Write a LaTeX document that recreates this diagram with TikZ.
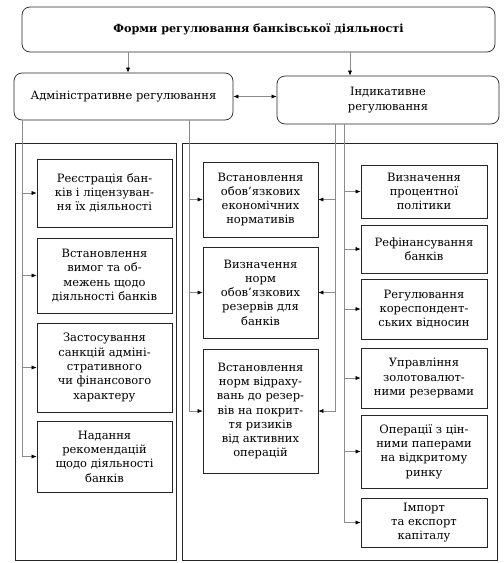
\documentclass[tikz,border=0pt]{standalone}
\usepackage{fontspec}
\setmainfont{DejaVu Serif}
\usetikzlibrary{arrows.meta}
\tikzset{
  box/.style={draw=black!85, line width=0.7pt, align=center, inner sep=1pt, font=\fontsize{11.5}{14.3}\selectfont},
  headbox/.style={box, rounded corners=8pt},
  admbox/.style={box, minimum width=135pt},
  normbox/.style={box, minimum width=115pt},
  instbox/.style={box, minimum width=126pt},
  frame/.style={draw=black!85, line width=0.7pt},
  link/.style={draw=black!45, line width=0.5pt, -{Latex[length=5pt,width=4pt,black]}},
  twoway/.style={draw=black!45, line width=0.5pt, {Latex[length=5pt,width=4pt,black]}-{Latex[length=5pt,width=4pt,black]}},
}
\begin{document}
\begin{tikzpicture}[x=1pt,y=-1pt]
\useasboundingbox (0,0) rectangle (504,563);
\fill[white] (0,0) rectangle (504,563);

\draw[frame] (15,143) rectangle (176,560);
\draw[frame] (182,143) rectangle (497,560);

\node[headbox, minimum width=473pt, minimum height=45pt, font=\fontsize{11.2}{14}\selectfont\bfseries] (forms) at (258.5,29.5) {Форми регулювання банківської діяльності};
\node[headbox, minimum width=219pt, minimum height=47pt] (adm) at (123.5,96.5) {Адміністративне регулювання};
\node[headbox, minimum width=222pt, minimum height=48pt] (ind) at (388,100) {Індикативне\\регулювання};

\node[admbox, minimum height=68pt] (reg) at (104.5,193) {Реєстрація бан-\\ків і ліцензуван-\\ня їх діяльності};
\node[admbox, minimum height=75pt] (req) at (104.5,275.5) {Встановлення\\вимог та об-\\межень щодо\\діяльності банків};
\node[admbox, minimum height=89pt] (san) at (104.5,367.5) {Застосування\\санкцій адміні-\\стративного\\чи фінансового\\характеру};
\node[admbox, minimum height=71pt] (rec) at (104.5,456.5) {Надання\\рекомендацій\\щодо діяльності\\банків};

\node[normbox, minimum height=75pt] (econ) at (260.5,199.5) {Встановлення\\обов’язкових\\економічних\\нормативів};
\node[normbox, minimum height=91pt] (resv) at (260.5,292.5) {Визначення\\норм\\обов’язкових\\резервів для\\банків};
\node[normbox, minimum height=124pt] (risk) at (260.5,411) {Встановлення\\норм відраху-\\вань до резер-\\вів на покрит-\\тя ризиків\\від активних\\операцій};

\node[instbox, minimum height=53pt] (rate) at (424,191.5) {Визначення\\процентної\\політики};
\node[instbox, minimum height=48pt] (refin) at (424,249) {Рефінансування\\банків};
\node[instbox, minimum height=60pt] (corr) at (424,309) {Регулювання\\кореспондент-\\ських відносин};
\node[instbox, minimum height=60pt] (gold) at (424,378) {Управління\\золотовалют-\\ними резервами};
\node[instbox, minimum height=73pt] (open) at (424,451.5) {Операції з цін-\\ними паперами\\на відкритому\\ринку};
\node[instbox, minimum height=49pt] (cap) at (424,522.5) {Імпорт\\та експорт\\капіталу};

\coordinate (ldrop) at (128,0);
\coordinate (rdrop) at (350,0);
\coordinate (lbus) at (22,0);
\coordinate (mlbus) at (189,0);
\coordinate (mrbus) at (335,0);
\coordinate (rbus) at (344,0);

\draw[link] (ldrop |- forms.south) -- (ldrop |- adm.north);
\draw[link] (rdrop |- forms.south) -- (rdrop |- ind.north);
\draw[twoway] (adm.east) -- (adm.east -| ind.west);

\foreach \b in {reg,req,san,rec}
  \draw[link] (lbus |- adm.south) |- (\b.west);
\foreach \b in {econ,resv,risk}
  \draw[link] (mlbus |- adm.south) |- (\b.west);
\foreach \b in {econ,resv,risk}
  \draw[link] (mrbus |- ind.south) |- (\b.east);
\foreach \b in {rate,refin,corr,gold,open,cap}
  \draw[link] (rbus |- ind.south) |- (\b.west);

\end{tikzpicture}
\end{document}
